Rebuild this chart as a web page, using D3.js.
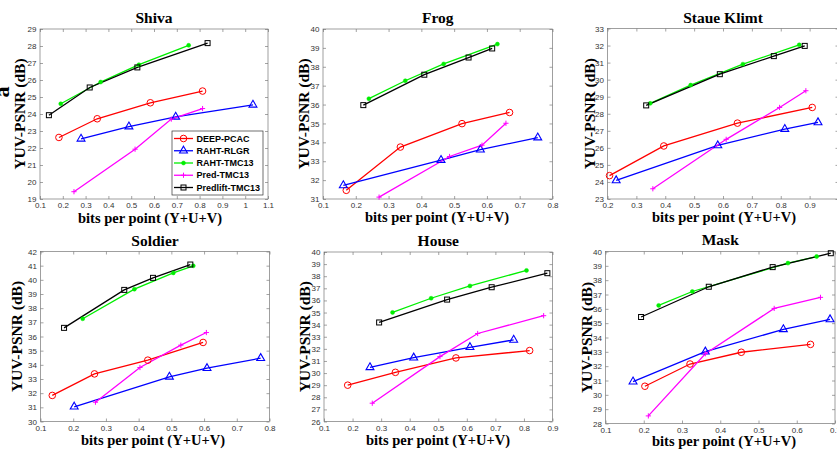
<!DOCTYPE html>
<html>
<head>
<meta charset="utf-8">
<script src="https://cdn.jsdelivr.net/npm/d3@7/dist/d3.min.js"></script>
<style>
  html, body { margin: 0; padding: 0; background: #fff; overflow: hidden; }
  svg { display: block; }
  .tick text { font-family: "Liberation Sans", Arial, sans-serif; font-size: 8px; fill: #333; }
</style>
</head>
<body>
<svg id="chart" width="837" height="454"></svg>
<script>
// ---------------- DATA ----------------
const seriesNames = ["DEEP-PCAC", "RAHT-RLGR", "RAHT-TMC13", "Pred-TMC13", "Predlift-TMC13"];
const panelTitles = ["Shiva", "Frog", "Staue Klimt", "Soldier", "House", "Mask"];
const xLabelText = "bits per point (Y+U+V)";
const yLabelText = "YUV-PSNR (dB)";

// each panel: one [x, y] list per series, in the order of seriesNames
const shivaData = [
  [[0.183, 22.62], [0.351, 23.72], [0.584, 24.66], [0.813, 25.35]],
  [[0.280, 22.54], [0.490, 23.26], [0.695, 23.83], [1.034, 24.54]],
  [[0.191, 24.60], [0.366, 25.88], [0.534, 26.90], [0.752, 28.04]],
  [[0.249, 19.43], [0.517, 21.93], [0.676, 23.70], [0.813, 24.32]],
  [[0.139, 23.93], [0.318, 25.56], [0.527, 26.74], [0.835, 28.17]]
];
const frogData = [
  [[0.171, 31.46], [0.336, 33.75], [0.524, 34.99], [0.669, 35.58]],
  [[0.162, 31.72], [0.460, 33.06], [0.580, 33.61], [0.755, 34.25]],
  [[0.240, 36.31], [0.351, 37.26], [0.468, 38.15], [0.632, 39.20]],
  [[0.271, 31.10], [0.486, 33.25], [0.585, 33.85], [0.658, 35.01]],
  [[0.223, 35.97], [0.409, 37.58], [0.544, 38.49], [0.616, 38.97]]
];
const staueData = [
  [[0.207, 24.37], [0.395, 26.11], [0.650, 27.45], [0.909, 28.37]],
  [[0.230, 24.09], [0.582, 26.14], [0.814, 27.10], [0.929, 27.49]],
  [[0.348, 28.61], [0.488, 29.68], [0.669, 30.91], [0.864, 32.04]],
  [[0.357, 23.60], [0.611, 26.50], [0.796, 28.37], [0.887, 29.35]],
  [[0.334, 28.49], [0.589, 30.32], [0.776, 31.38], [0.883, 31.98]]
];
const soldierData = [
  [[0.136, 31.84], [0.265, 33.36], [0.428, 34.33], [0.597, 35.58]],
  [[0.203, 31.04], [0.494, 33.15], [0.609, 33.76], [0.773, 34.47]],
  [[0.229, 37.25], [0.387, 39.34], [0.506, 40.49], [0.567, 40.99]],
  [[0.268, 31.36], [0.404, 33.81], [0.529, 35.39], [0.607, 36.28]],
  [[0.172, 36.61], [0.356, 39.29], [0.444, 40.14], [0.558, 41.08]]
];
const houseData = [
  [[0.183, 29.00], [0.350, 30.06], [0.562, 31.25], [0.820, 31.86]],
  [[0.261, 30.47], [0.414, 31.27], [0.611, 32.13], [0.764, 32.74]],
  [[0.340, 35.01], [0.475, 36.18], [0.611, 37.20], [0.809, 38.48]],
  [[0.269, 27.51], [0.506, 31.36], [0.638, 33.27], [0.869, 34.74]],
  [[0.293, 34.18], [0.531, 36.07], [0.687, 37.09], [0.882, 38.25]]
];
const maskData = [
  [[0.203, 30.60], [0.321, 32.15], [0.455, 32.97], [0.636, 33.52]],
  [[0.172, 30.92], [0.361, 33.01], [0.565, 34.57], [0.687, 35.26]],
  [[0.239, 36.24], [0.327, 37.21], [0.577, 39.19], [0.652, 39.65]],
  [[0.212, 28.53], [0.361, 32.87], [0.541, 36.03], [0.662, 36.80]],
  [[0.193, 35.43], [0.370, 37.54], [0.537, 38.91], [0.689, 39.88]]
];
const panelData = [shivaData, frogData, staueData, soldierData, houseData, maskData];

// axis domains and tick values
const xDomains = [[0.1, 1.1], [0.1, 0.8], [0.2, 1.0], [0.1, 0.8], [0.1, 0.9], [0.1, 0.7]];
const yDomains = [[19, 29], [31, 40], [23, 33], [30, 42], [26, 40], [28, 40]];
const xTickValues = [
  [0.1, 0.2, 0.3, 0.4, 0.5, 0.6, 0.7, 0.8, 0.9, 1.0, 1.1],
  [0.1, 0.2, 0.3, 0.4, 0.5, 0.6, 0.7, 0.8],
  [0.2, 0.3, 0.4, 0.5, 0.6, 0.7, 0.8, 0.9],
  [0.1, 0.2, 0.3, 0.4, 0.5, 0.6, 0.7, 0.8],
  [0.1, 0.2, 0.3, 0.4, 0.5, 0.6, 0.7, 0.8, 0.9],
  [0.1, 0.2, 0.3, 0.4, 0.5, 0.6, 0.7]
];
const yTickValues = yDomains.map(d => d3.range(d[0], d[1] + 1, 1));

// ---------------- LAYOUT / STYLE ----------------
// plot boxes [left, top, right, bottom]
const boxes = [
  [40, 29, 268, 199],
  [323, 29, 552.5, 199],
  [607.5, 28.5, 838.5, 199],
  [40.5, 251.5, 269.5, 421.5],
  [324, 252, 552.5, 421.5],
  [605.5, 251.5, 835, 423.5]
];
const titleY = [23, 23, 23, 246, 246, 245];
const xLabelPos = [[150, 222.5], [437, 222], [724, 222], [153, 444.5], [438, 444.5], [724, 446]];
const yLabelX = [20, 304, 590, 17, 305, 587];

const colors = ["#ff0000", "#0000ff", "#00ee00", "#ff00ff", "#000000"];
const markers = ["circle", "triangle", "dot", "plus", "square"];

const svg = d3.select("#chart");

function drawMarker(g, type, cx, cy, color) {
  if (type === "circle") {
    g.append("circle").attr("cx", cx).attr("cy", cy).attr("r", 3.3)
      .attr("fill", "none").attr("stroke", color).attr("stroke-width", 1);
  } else if (type === "triangle") {
    g.append("path").attr("transform", `translate(${cx},${cy})`)
      .attr("d", d3.symbol().type(d3.symbolTriangle).size(27)())
      .attr("fill", "none").attr("stroke", color).attr("stroke-width", 1.1);
  } else if (type === "dot") {
    g.append("circle").attr("cx", cx).attr("cy", cy).attr("r", 2)
      .attr("fill", color).attr("stroke", color).attr("stroke-width", 0.5);
  } else if (type === "plus") {
    g.append("path").attr("d", `M${cx - 2.6},${cy}H${cx + 2.6}M${cx},${cy - 2.6}V${cy + 2.6}`)
      .attr("fill", "none").attr("stroke", color).attr("stroke-width", 1);
  } else if (type === "square") {
    g.append("rect").attr("x", cx - 2.5).attr("y", cy - 2.5).attr("width", 5).attr("height", 5)
      .attr("fill", "none").attr("stroke", color).attr("stroke-width", 1);
  }
}

const fmt = v => String(+v.toFixed(1));

panelData.forEach((data, i) => {
  const [l, t, r, b] = boxes[i];
  const x = d3.scaleLinear().domain(xDomains[i]).range([l, r]);
  const y = d3.scaleLinear().domain(yDomains[i]).range([b, t]);
  const g = svg.append("g");

  // axes with inward ticks
  const ax = g.append("g").attr("transform", `translate(0,${b})`)
    .call(d3.axisBottom(x).tickValues(xTickValues[i]).tickFormat(fmt).tickSize(-3).tickPadding(3.5));
  const axT = g.append("g").attr("transform", `translate(0,${t})`)
    .call(d3.axisTop(x).tickValues(xTickValues[i]).tickFormat("").tickSize(-3));
  const ay = g.append("g").attr("transform", `translate(${l},0)`)
    .call(d3.axisLeft(y).tickValues(yTickValues[i]).tickFormat(d3.format("d")).tickSize(-3).tickPadding(3.5));
  const ayR = g.append("g").attr("transform", `translate(${r},0)`)
    .call(d3.axisRight(y).tickValues(yTickValues[i]).tickFormat("").tickSize(-3));
  [ax, axT, ay, ayR].forEach(a => {
    a.select(".domain").remove();
    a.selectAll(".tick line").attr("stroke", "#666").attr("stroke-width", 0.6);
  });
  ax.selectAll(".tick text").attr("dy", "0.7em");

  g.append("rect").attr("x", l).attr("y", t).attr("width", r - l).attr("height", b - t)
    .attr("fill", "none").attr("stroke", "#777").attr("stroke-width", 0.7);

  // series
  const line = d3.line().x(d => x(d[0])).y(d => y(d[1]));
  data.forEach((pts, s) => {
    g.append("path").datum(pts).attr("d", line)
      .attr("fill", "none").attr("stroke", colors[s]).attr("stroke-width", 1.3);
  });
  data.forEach((pts, s) => {
    pts.forEach(p => drawMarker(g, markers[s], x(p[0]), y(p[1]), colors[s]));
  });

  // title and axis labels
  g.append("text").attr("x", (l + r) / 2).attr("y", titleY[i]).attr("text-anchor", "middle")
    .attr("font-family", "'Liberation Serif', 'Times New Roman', serif").attr("font-weight", "bold")
    .attr("font-size", 15.5).text(panelTitles[i]);
  g.append("text").attr("x", xLabelPos[i][0]).attr("y", xLabelPos[i][1]).attr("text-anchor", "middle")
    .attr("font-family", "'Liberation Serif', 'Times New Roman', serif").attr("font-weight", "bold")
    .attr("font-size", 14.5).text(xLabelText);
  g.append("text").attr("transform", `translate(${yLabelX[i]},${(t + b) / 2}) rotate(-90)`)
    .attr("text-anchor", "middle").attr("dy", "0.35em")
    .attr("font-family", "'Liberation Serif', 'Times New Roman', serif").attr("font-weight", "bold")
    .attr("font-size", 15.5).text(yLabelText);

  // legend in the first panel
  if (i === 0) {
    const lx = 172, ly = 131, lw = 91, lh = 64;
    const lg = g.append("g");
    lg.append("rect").attr("x", lx).attr("y", ly).attr("width", lw).attr("height", lh)
      .attr("fill", "#fff").attr("stroke", "#333").attr("stroke-width", 0.7);
    seriesNames.forEach((name, s) => {
      const yy = ly + 7.5 + s * 12.25;
      lg.append("line").attr("x1", lx + 2).attr("x2", lx + 21).attr("y1", yy).attr("y2", yy)
        .attr("stroke", colors[s]).attr("stroke-width", 1.3);
      drawMarker(lg, markers[s], lx + 11.5, yy, colors[s]);
      lg.append("text").attr("x", lx + 24.5).attr("y", yy).attr("dy", "0.35em")
        .attr("font-family", "'Liberation Sans', Arial, sans-serif").attr("font-weight", "bold")
        .attr("font-size", 9).attr("fill", "#000").text(name);
    });
  }
});

// clipped fragment of a rotated label at the far left edge
svg.append("text").attr("transform", "translate(9,92) rotate(-90)")
  .attr("text-anchor", "middle")
  .attr("font-family", "'Liberation Serif', 'Times New Roman', serif").attr("font-weight", "bold")
  .attr("font-size", 22).text("a");
</script>
</body>
</html>
